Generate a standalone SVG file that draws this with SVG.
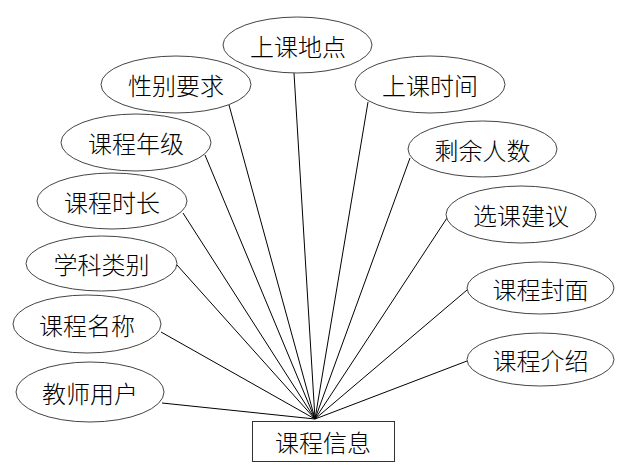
<svg xmlns="http://www.w3.org/2000/svg" width="632" height="473" viewBox="0 0 632 473">
<style>
.n ellipse{fill:#fff;stroke:#444;stroke-width:1}
.n rect{fill:#fff;stroke:#333;stroke-width:1}
.n text{font-family:"Noto Sans CJK SC","Noto Sans CJK JP",sans-serif;font-size:24px;font-weight:300;fill:#000;text-anchor:middle;dominant-baseline:central}
#edges line{stroke:#000;stroke-width:1}
</style>
<rect width="632" height="473" fill="#fff"/>
<g id="edges">
<line x1="294" y1="73" x2="315" y2="419"/>
<line x1="229" y1="105" x2="315" y2="419"/>
<line x1="205" y1="155" x2="315" y2="419"/>
<line x1="183" y1="213" x2="315" y2="419"/>
<line x1="177" y1="265" x2="315" y2="419"/>
<line x1="161" y1="332" x2="315" y2="419"/>
<line x1="162" y1="403" x2="315" y2="419"/>
<line x1="368" y1="102" x2="315" y2="419"/>
<line x1="410" y1="158" x2="315" y2="419"/>
<line x1="447" y1="218" x2="315" y2="419"/>
<line x1="467" y1="290" x2="315" y2="419"/>
<line x1="467" y1="361" x2="315" y2="419"/>
</g>
<g id="n_kcxx" class="n"><rect x="252.5" y="421.5" width="142" height="40"/><text x="323" y="441">课程信息</text></g>
<g id="n_skdd" class="n"><ellipse cx="297.5" cy="45" rx="74.5" ry="28"/><text x="298" y="45">上课地点</text></g>
<g id="n_xbyq" class="n"><ellipse cx="176" cy="84.5" rx="75" ry="28.5"/><text x="176" y="84.5">性别要求</text></g>
<g id="n_kcnj" class="n"><ellipse cx="136" cy="142.5" rx="75" ry="28.5"/><text x="136" y="142.5">课程年级</text></g>
<g id="n_kcsc" class="n"><ellipse cx="112" cy="201" rx="75" ry="28"/><text x="112" y="201">课程时长</text></g>
<g id="n_xklb" class="n"><ellipse cx="101.5" cy="263.5" rx="75.5" ry="27.5"/><text x="101.5" y="263.5">学科类别</text></g>
<g id="n_kcmc" class="n"><ellipse cx="87" cy="324" rx="74" ry="29"/><text x="87" y="324">课程名称</text></g>
<g id="n_jsyh" class="n"><ellipse cx="90" cy="392" rx="74" ry="30"/><text x="90" y="392">教师用户</text></g>
<g id="n_sksj" class="n"><ellipse cx="430" cy="84.5" rx="75" ry="28.5"/><text x="430" y="84.5">上课时间</text></g>
<g id="n_syrs" class="n"><ellipse cx="482.5" cy="149" rx="74.5" ry="28"/><text x="482.5" y="149">剩余人数</text></g>
<g id="n_xkjy" class="n"><ellipse cx="521" cy="214.5" rx="75" ry="28.5"/><text x="521" y="214.5">选课建议</text></g>
<g id="n_kcfm" class="n"><ellipse cx="540.5" cy="288" rx="73.5" ry="26"/><text x="540.5" y="288">课程封面</text></g>
<g id="n_kcjs" class="n"><ellipse cx="540.5" cy="359.5" rx="73.5" ry="26.5"/><text x="540.5" y="359.5">课程介绍</text></g>
</svg>
